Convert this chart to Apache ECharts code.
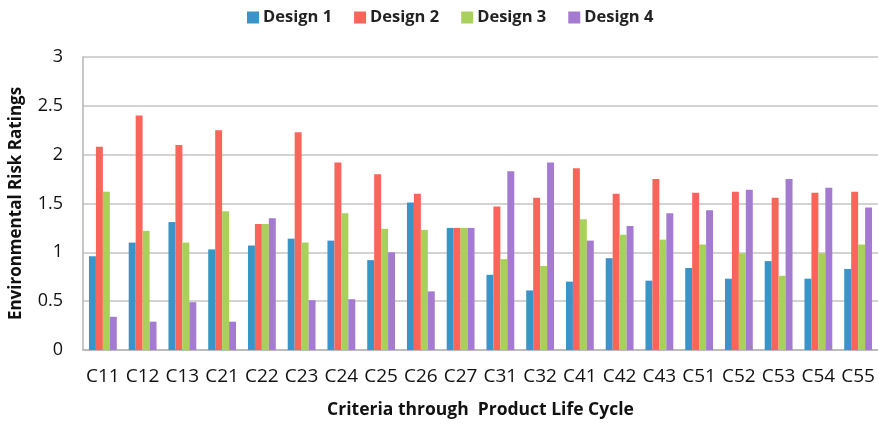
<!DOCTYPE html>
<html>
<head>
<meta charset="utf-8">
<script src="https://cdn.jsdelivr.net/npm/echarts@6/dist/echarts.min.js"></script>
<style>
  html, body { margin: 0; padding: 0; background: #fff; }
  #chart { width: 878px; height: 424px; }
</style>
</head>
<body>
<div id="chart"></div>
<script>
// Criteria grouped by product life-cycle stage
const categories = ['C11','C12','C13','C21','C22','C23','C24','C25','C26','C27',
                    'C31','C32','C41','C42','C43','C51','C52','C53','C54','C55'];

// Environmental risk ratings per design alternative
const design1 = [0.96, 1.10, 1.31, 1.03, 1.07, 1.14, 1.12, 0.92, 1.51, 1.25,
                 0.77, 0.61, 0.70, 0.94, 0.71, 0.84, 0.73, 0.91, 0.73, 0.83];
const design2 = [2.08, 2.40, 2.10, 2.25, 1.29, 2.23, 1.92, 1.80, 1.60, 1.25,
                 1.47, 1.56, 1.86, 1.60, 1.75, 1.61, 1.62, 1.56, 1.61, 1.62];
const design3 = [1.62, 1.22, 1.10, 1.42, 1.29, 1.10, 1.40, 1.24, 1.23, 1.25,
                 0.93, 0.86, 1.34, 1.18, 1.13, 1.08, 0.99, 0.76, 0.99, 1.08];
const design4 = [0.34, 0.29, 0.49, 0.29, 1.35, 0.51, 0.52, 1.00, 0.60, 1.25,
                 1.83, 1.92, 1.12, 1.27, 1.40, 1.43, 1.64, 1.75, 1.66, 1.46];

const seriesNames = ['Design 1', 'Design 2', 'Design 3', 'Design 4'];
const yTicks = ['0', '0.5', '1', '1.5', '2', '2.5', '3'];

const font = '"Open Sans", "Noto Sans", sans-serif';
const colors = ['#3a94c7', '#fa655b', '#a9d05b', '#a57bd1'];

const chart = echarts.init(document.getElementById('chart'), null, { renderer: 'canvas' });

const makeSeries = (name, data) => ({
  name,
  type: 'bar',
  data,
  barGap: '0%',
  barCategoryGap: '30%',
  animation: false
});

chart.setOption({
  color: colors,
  textStyle: { fontFamily: font },
  legend: {
    top: 4,
    left: 242,
    itemWidth: 12,
    itemHeight: 12,
    itemGap: 22,
    icon: 'rect',
    textStyle: { fontFamily: font, fontSize: 16.5, fontWeight: 'bold', color: '#222', padding: [0, 0, 0, -1] },
    data: seriesNames
  },
  grid: { left: 79, right: 0, top: 57, bottom: 73, containLabel: false },
  xAxis: {
    type: 'category',
    data: categories,
    name: 'Criteria through  Product Life Cycle',
    nameLocation: 'middle',
    nameGap: 51,
    nameTextStyle: { fontFamily: font, fontSize: 17.5, fontWeight: 'bold', color: '#111' },
    axisLine: { lineStyle: { color: '#b5b5b5', width: 1.5 } },
    axisTick: { show: false },
    axisLabel: { fontFamily: font, fontSize: 19, color: '#111', margin: 17, interval: 0 }
  },
  yAxis: {
    type: 'value',
    min: 0,
    max: 3,
    interval: 0.5,
    name: 'Environmental Risk Ratings',
    nameLocation: 'middle',
    nameGap: 58,
    nameTextStyle: { fontFamily: font, fontSize: 17, fontWeight: 'bold', color: '#111' },
    axisLine: { show: true, lineStyle: { color: '#b5b5b5', width: 1.5 } },
    axisTick: { show: false },
    axisLabel: {
      fontFamily: font, fontSize: 18, color: '#111', margin: 20,
      formatter: (v) => yTicks[Math.round(v / 0.5)]
    },
    splitLine: { lineStyle: { color: '#c4c4c4', width: 1.5 } }
  },
  series: [
    makeSeries(seriesNames[0], design1),
    makeSeries(seriesNames[1], design2),
    makeSeries(seriesNames[2], design3),
    makeSeries(seriesNames[3], design4)
  ]
});
</script>
</body>
</html>
